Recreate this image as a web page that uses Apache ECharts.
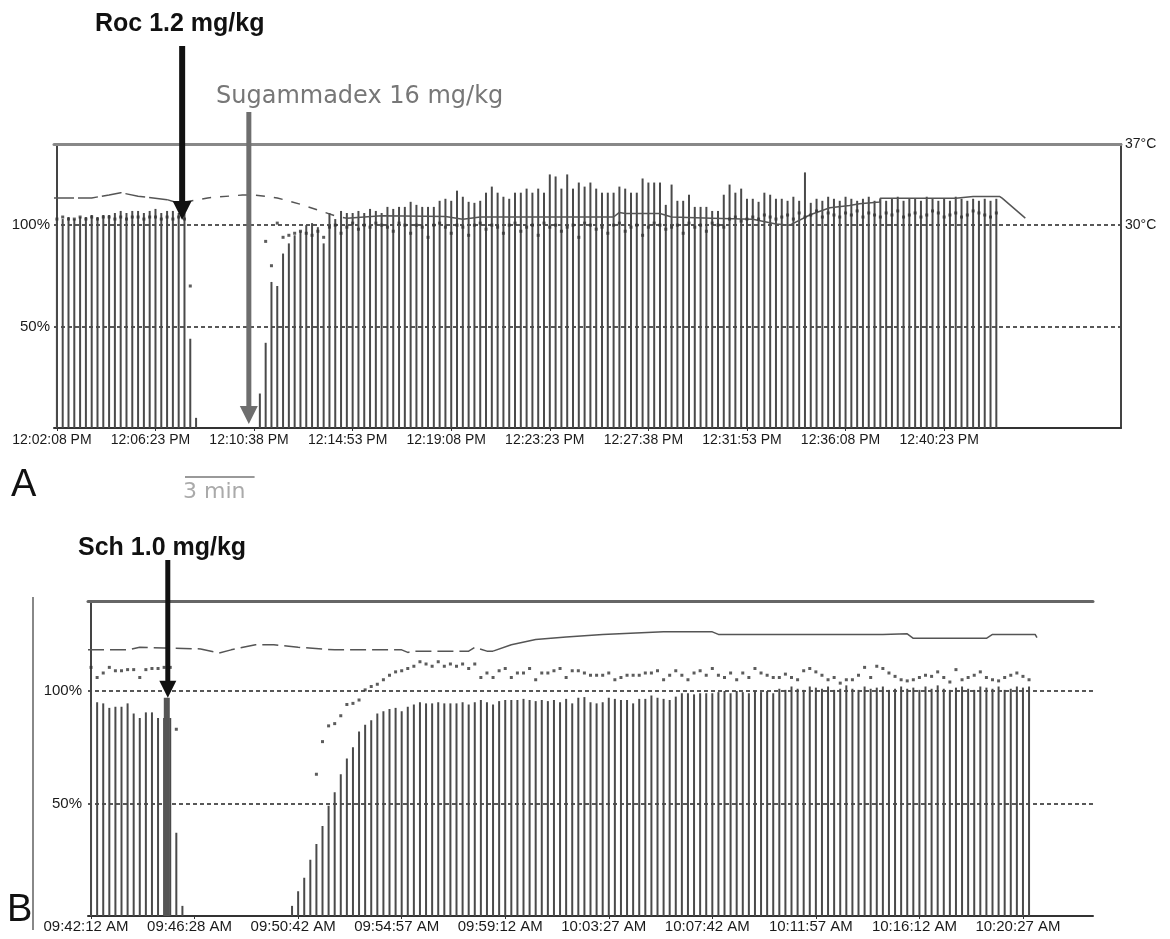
<!DOCTYPE html>
<html>
<head>
<meta charset="utf-8">
<script src="https://cdn.jsdelivr.net/npm/echarts@6/dist/echarts.min.js"></script>
<style>
html, body { margin: 0; padding: 0; background: #fff; }
#main { width: 1170px; height: 939px; }
</style>
</head>
<body>
<div id="main"></div>
<script>
// one sample every 15 s, axis label every 17 samples (4:15)
var ticksA = ['12:02:08 PM', '12:06:23 PM', '12:10:38 PM', '12:14:53 PM', '12:19:08 PM',
              '12:23:23 PM', '12:27:38 PM', '12:31:53 PM', '12:36:08 PM', '12:40:23 PM'];
var ticksB = ['09:42:12 AM', '09:46:28 AM', '09:50:42 AM', '09:54:57 AM', '09:59:12 AM',
              '10:03:27 AM', '10:07:42 AM', '10:11:57 AM', '10:16:12 AM', '10:20:27 AM'];

// panel A - T1 bars (%)
var barsA = [
  103,103,104,103,104,104,105,104,105,105,106,107,106,107,107,106,107,108,106,107,107,106,106,
  44,5,
  0,0,0,0,0,0,0,0,0,0,
  17,42,72,70,86,91,95,97,
  100,101,99,91,106,103,107,106,106,107,106,108,107,
  106,109,108,109,109,111.5,110,109,109,109,
  112,113,112,117,114,111.5,111,112,116,119,
  116,114,113,116,116,118,116,118,116,125,
  124,118,125,118,121,119,121,118,116,116,
  116,119,118,116,116,123,121,121,121,110,
  120,112,112,115,109,109,109,107,107,115,
  120,116,118,113,113,111.5,116,115,113,
  113,112,114,112,126,111,113,112,114,113,
  112,114,113,112,113,114,112,113,112,113,
  114,112,113,113,112,114,113,112,113,112,
  114,113,112,113,112,113,112,113
];
// panel A - ratio dots (%)
var dotsA = [
  103,104,103,103,104,103,104,103,104,104,103,104,103,104,104,103,104,104,103,104,103,104,103,
  70,
  null,null,null,null,null,null,null,null,null,null,null,null,
  92,80,101,94,95,96,97,
  96,95,97,94,99,100,96,99,101,98,100,99,101,
  100,99,97,101,100,96,100,99,94,100,
  101,99,96,100,99,95,100,101,98,100,
  99,96,100,101,97,99,100,95,101,99,
  100,97,99,100,94,101,100,98,99,96,
  100,101,97,99,100,95,99,101,100,98,
  99,100,96,101,99,100,97,101,100,99,
  103,104,102,103,104,103,105,104,103,
  104,105,103,106,104,105,107,104,106,105,
  104,106,105,107,104,106,105,104,106,105,
  107,104,105,106,104,105,107,106,104,105,
  106,104,105,107,106,105,104,106
];
// panel A - temperature [sample, degC]
var tempA = [
  [-0.5,32.35],[6,32.35],[9,32.6],[11,32.8],[14,32.5],[19,32.2],[21,31.9],[26,32.35],[32,32.6],
  [34,32.6],[38,32.35],[42,31.8],[45,31.3],[48,30.8],[50,30.6],[56,30.8],[67,30.75],[70,30.5],
  [73,30.7],[96,30.7],[97,31.1],[98,31.0],[104,31.0],[106,30.7],[113,30.6],[120,30.5],[124,30.1],
  [126.4,30.0],[129.9,30.9],[133.3,31.5],[136.7,31.7],[138.4,31.85],[141.9,32.0],[142,32.33],
  [155,32.33],[158,32.47],[162.6,32.47],[163,32.33],[167,30.6]
];

// panel B - T1 bars (%)
var barsB = [
  93,95,94.5,92.5,93,93,94.5,90,88,90.5,90.5,88,88,88,
  37,4.5,
  0,0,0,0,0,0,0,0,0,0,0,0,0,0,0,0,0,
  4.5,11,17,25,32,40,49,55,63,70,75,82,85,87,90,91,92,92.5,
  91,93,94,95,
  94.5,94.5,95,94.5,94.5,94.5,95,94,95,
  96,95,94,95.5,96, 96,96,96.5,96,95.5, 96,95.5,96,95,96.5,
  94.5,97,97.3, 95,94.5,95, 97,96.5,96, 96,94.5,96.5, 96.5,98,97, 96.5,96,97.5,
  99,99,98.5,99,99, 99,99.5,100,99,100,99.5,99,100,99.5,100,99,
  101,100.5,102,101,100.5,102,101.5,101,102,100.5,
  101,102.5,101,100.5,102,101,101.5,102,100.5,101,
  102,101,101.5,100.5,102,101,102.5,101,100.5,101.5,
  102,101,100.5,102,101.5,101,102,100.5,101,102,
  101.5,102
];
// panel B - ratio dots (%)
var dotsB = [
  110.5,106,108,110.5,109,109,109.5,109.5,106,109.5,110,110,110.5,110.5,
  83,
  null,null,null,null,null,null,null,null,null,null,null,
  null,null,null,null,null,null,null,null,null,null,null,
  63,77.5,84.5,85.5,89,94,94.5,96,100.5,102,103,105,107,108.5,
  109,110,111,113,112,111,113,111,112,111,112,110,112,
  106,108,106,109,110, 106,108,108,110,105, 108,108,109,110,106,
  109,109,108,107,107, 107,108,105,106,107, 107,107,108,108,109,
  105,107,109,107,105, 108,109,107,110,107, 106,108,105,108,106,
  110,108,107,106,
  106,107.5,106,105,109,110,108.5,107,105,106,
  103.5,105,105,107,110.5,106,111,110,108,106.5,
  105,104.5,105,106,107,106.5,108.5,106,104,109.5,
  105,106,107,108.5,106,105,104.5,106,107,108,
  106.5,105
];
// panel B - temperature [sample, degC]
var tempB = [
  [-0.5,33.2],[6,33.2],[8,33.4],[12,33.35],[18,33.27],[21,32.95],[23,33.2],[27,33.6],[30,33.6],
  [34,33.4],[40,33.2],[51,33.2],[52,33.0],[53,33.1],[62,33.1],[63,33.4],[65,33.1],[66,33.1],
  [69,33.6],[73,34.0],[78,34.2],[84,34.4],[94,34.6],[102,34.6],[103,34.4],[113,34.4],[130,34.4],
  [134,34.45],[135,34.1],[147,34.1],[148,34.4],[155,34.4],[155.3,34.15]
];

// drug marks (sample position)
var rocIdx = 21.6, sugIdx = 33.1, schIdx = 12.6;

var NA = 184, NB = 165;   // sample slots on each time axis
var samplesA = [], samplesB = [];
for (var i = 0; i < NA; i++) samplesA.push(i);
for (var j = 0; j < NB; j++) samplesB.push(j);

function seg(pairs, from, to) {
  return pairs.filter(function (p) { return p[0] >= from && p[0] <= to; });
}
function every17(ticks) {
  return function (index) { return index % 17 === 0 && index / 17 < ticks.length; };
}
function tickText(ticks) {
  return function (value, index) { return ticks[index / 17] || ''; };
}
function pctLabel(v) { return (v === 50 || v === 100) ? v + '%' : ''; }
function degLabel(v) { return (v === 30 || v === 37) ? v + '°C' : ''; }

var font = 'Liberation Sans';
var chart = echarts.init(document.getElementById('main'));

function timeAxis(grid, data, ticks, size, margin) {
  return {
    type: 'category', gridIndex: grid, data: data, boundaryGap: true,
    axisLine: { lineStyle: { color: '#333', width: 2 } },
    axisTick: { show: true, interval: every17(ticks), alignWithLabel: true, length: 3, lineStyle: { color: '#333' } },
    axisLabel: { interval: every17(ticks), formatter: tickText(ticks), fontSize: size, color: '#1a1a1a',
                 fontFamily: font, margin: margin, padding: [0, 10, 0, 0] },
    splitLine: { show: false }
  };
}
function topLine(grid, n, color) {
  return {
    type: 'value', gridIndex: grid, position: 'top', min: -0.5, max: n - 0.5,
    axisLine: { show: true, lineStyle: { color: color, width: 3 } },
    axisTick: { show: false }, axisLabel: { show: false }, splitLine: { show: false }
  };
}
function pctAxis(grid, margin) {
  return {
    type: 'value', gridIndex: grid, min: 0, max: 140, interval: 50,
    axisLine: { show: true, lineStyle: { color: '#444', width: 2 } },
    axisTick: { show: false },
    axisLabel: { formatter: pctLabel, fontSize: 15, color: '#1a1a1a', fontFamily: font, margin: margin },
    splitLine: { show: true, showMinLine: false, showMaxLine: false,
                 lineStyle: { color: '#222', width: 1.5, type: [4, 3] } }
  };
}
function tempAxis(grid, visible) {
  return {
    type: 'value', gridIndex: grid, position: 'right', min: 12.5, max: 37, interval: 0.5,
    show: visible,
    axisLine: { show: true, lineStyle: { color: '#444', width: 2 } },
    axisTick: { show: false },
    axisLabel: { formatter: degLabel, fontSize: 14, color: '#1a1a1a', fontFamily: font, margin: 4 },
    splitLine: { show: false }
  };
}
function tempLine(xi, yi, data, dash) {
  return {
    type: 'line', xAxisIndex: xi, yAxisIndex: yi, data: data, symbol: 'none', silent: true, z: 3,
    lineStyle: { color: '#555', width: 1.5, type: dash }
  };
}

var option = {
  animation: false,
  textStyle: { fontFamily: font },
  grid: [
    { left: 54, top: 144, width: 1067, height: 284, outerBoundsMode: 'none' },
    { left: 88, top: 601, width: 1005, height: 315, outerBoundsMode: 'none' }
  ],
  xAxis: [
    timeAxis(0, samplesA, ticksA, 14, 5),
    topLine(0, NA, '#888'),
    timeAxis(1, samplesB, ticksB, 15, 3),
    topLine(1, NB, '#666')
  ],
  yAxis: [
    pctAxis(0, 4),
    tempAxis(0, true),
    pctAxis(1, 6),
    tempAxis(1, false)
  ],
  series: [
    { type: 'bar', xAxisIndex: 0, yAxisIndex: 0, data: barsA, barWidth: 2, silent: true, z: 2,
      itemStyle: { color: '#4a4a4a' } },
    tempLine(1, 1, seg(tempA, -1, 19), [20, 4]),
    tempLine(1, 1, seg(tempA, 19, 50), [9, 9]),
    tempLine(1, 1, seg(tempA, 50, 999), 'solid'),
    { type: 'scatter', xAxisIndex: 0, yAxisIndex: 0, data: dotsA, symbol: 'rect', symbolSize: 3,
      silent: true, z: 4, itemStyle: { color: '#333' } },

    { type: 'bar', xAxisIndex: 2, yAxisIndex: 2, data: barsB, barWidth: 2, silent: true, z: 2,
      itemStyle: { color: '#4a4a4a' } },
    tempLine(3, 3, seg(tempB, -1, 66), [16, 6]),
    tempLine(3, 3, seg(tempB, 66, 999), 'solid'),
    { type: 'scatter', xAxisIndex: 2, yAxisIndex: 2, data: dotsB, symbol: 'rect', symbolSize: 3,
      silent: true, z: 4, itemStyle: { color: '#333' } }
  ]
};
chart.setOption(option);

// annotations placed from the axes
function arrow(x, y0, tipY, color, w, head) {
  return [
    { type: 'line', z: 100, shape: { x1: x, y1: y0, x2: x, y2: tipY - head + 2 },
      style: { stroke: color, lineWidth: w } },
    { type: 'polygon', z: 100,
      shape: { points: [[x - head / 2, tipY - head], [x + head / 2, tipY - head], [x, tipY]] },
      style: { fill: color } }
  ];
}
function label(text, x, y, size, color, weight, family) {
  return { type: 'text', z: 100, style: { text: text, x: x, y: y, fill: color, verticalAlign: 'middle',
           font: (weight || 'normal') + ' ' + size + 'px "' + (family || font) + '"' } };
}

var rocX = chart.convertToPixel({ xAxisIndex: 1 }, rocIdx);
var sugX = chart.convertToPixel({ xAxisIndex: 1 }, sugIdx);
var schX = chart.convertToPixel({ xAxisIndex: 3 }, schIdx);
var rocTip = chart.convertToPixel({ yAxisIndex: 0 }, 102.5);
var sugTip = chart.convertToPixel({ yAxisIndex: 0 }, 2);
var schTip = chart.convertToPixel({ yAxisIndex: 2 }, 97);
var schBase = chart.convertToPixel({ yAxisIndex: 2 }, 0);
var band = chart.convertToPixel({ xAxisIndex: 1 }, 12) - chart.convertToPixel({ xAxisIndex: 1 }, 0);

var g = [];
g = g.concat(arrow(rocX, 46, rocTip, '#111', 6, 19));
g = g.concat(arrow(sugX, 112, sugTip, '#6e6e6e', 5, 18));
g = g.concat(arrow(schX, 560, schTip, '#111', 5, 17));
g.push({ type: 'line', z: 99, shape: { x1: schX - 1, y1: schTip, x2: schX - 1, y2: schBase },
         style: { stroke: '#555', lineWidth: 6 } });
g.push(label('Roc 1.2 mg/kg', 95, 24, 25, '#111', 'bold'));
g.push(label('Sugammadex 16 mg/kg', 216, 97, 24, '#777', 'normal', 'DejaVu Sans'));
g.push(label('Sch 1.0 mg/kg', 78, 548, 25, '#111', 'bold'));
g.push(label('A', 11, 486, 38, '#111'));
g.push(label('B', 7, 911, 38, '#111'));
g.push(label('3 min', 183, 492, 22, '#aaa', 'normal', 'DejaVu Sans'));
g.push({ type: 'line', z: 100, shape: { x1: 185, y1: 477, x2: 185 + band, y2: 477 },
         style: { stroke: '#999', lineWidth: 2 } });
g.push({ type: 'line', z: 100, shape: { x1: 33, y1: 597, x2: 33, y2: 930 },
         style: { stroke: '#888', lineWidth: 2 } });
chart.setOption({ graphic: g });
</script>
</body>
</html>
